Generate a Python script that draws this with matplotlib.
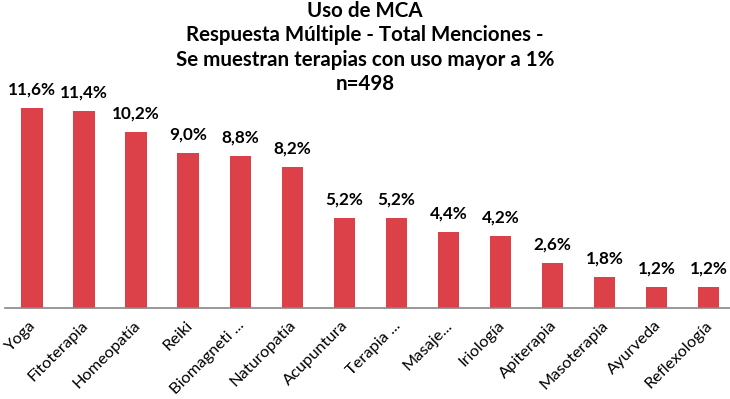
import matplotlib
matplotlib.use("Agg")
import matplotlib.pyplot as plt
import matplotlib.transforms as mtransforms

categories = ["Yoga", "Fitoterapia", "Homeopatía", "Reiki", "Biomagneti ...", "Naturopatía",
              "Acupuntura", "Terapia ...", "Masaje...", "Iriología", "Apiterapia",
              "Masoterapia", "Ayurveda", "Reflexología"]
values = [11.6, 11.4, 10.2, 9.0, 8.8, 8.2, 5.2, 5.2, 4.4, 4.2, 2.6, 1.8, 1.2, 1.2]
value_labels = ["11,6%", "11,4%", "10,2%", "9,0%", "8,8%", "8,2%", "5,2%", "5,2%",
                "4,4%", "4,2%", "2,6%", "1,8%", "1,2%", "1,2%"]
title = "Uso de MCA\nRespuesta Múltiple - Total Menciones -\nSe muestran terapias con uso mayor a 1%\nn=498"

W, H = 730, 399
fig = plt.figure(figsize=(W / 100, H / 100), dpi=100)
ax = fig.add_axes([5 / W, (H - 308) / H, 725 / W, 208 / H])

x = list(range(len(categories)))
ax.bar(x, values, width=0.41, color="#DC4048", zorder=2)
ax.set_xlim(-0.519, 13.41)
ax.set_ylim(0, 12.06)

for xi, v, lab in zip(x, values, value_labels):
    ax.annotate(lab, (xi, v), xytext=(0, 7.5), textcoords="offset points",
                ha="center", va="bottom", fontsize=12.3, fontweight="bold",
                family="Lato", color="#000000")

ax.set_xticks(x)
ax.set_xticklabels(categories, rotation=45, ha="right", va="center",
                   rotation_mode="anchor", fontsize=11.8, family="Lato")
ax.tick_params(axis="x", length=0, pad=11)
offset = mtransforms.ScaledTranslation(2 / 100, 0, fig.dpi_scale_trans)
for lbl in ax.get_xticklabels():
    lbl.set_transform(lbl.get_transform() + offset)
ax.set_yticks([])
for s in ["top", "right", "left"]:
    ax.spines[s].set_visible(False)
ax.spines["bottom"].set_color("#868686")
ax.spines["bottom"].set_linewidth(1.2)

fig.text(0.5, 1 - 1 / H, title, ha="center", va="top", fontsize=14.8, fontweight="bold",
         family="Lato", linespacing=1.27)

fig.savefig("out.png", dpi=100)
